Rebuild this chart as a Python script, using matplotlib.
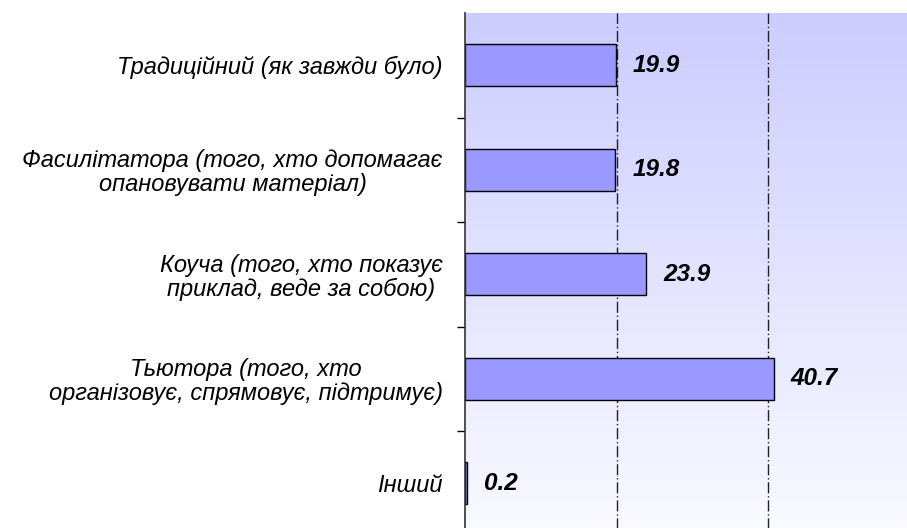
import matplotlib
matplotlib.use("Agg")
import matplotlib.pyplot as plt
import numpy as np
from matplotlib.colors import LinearSegmentedColormap

categories = [
    "Традиційний (як завжди було)",
    "Фасилітатора (того, хто допомагає\nопановувати матеріал)",
    "Коуча (того, хто показує\nприклад, веде за собою)",
    "Тьютора (того, хто\nорганізовує, спрямовує, підтримує)",
    "Інший",
]
values = [19.9, 19.8, 23.9, 40.7, 0.2]
value_labels = ["19.9", "19.8", "23.9", "40.7", "0.2"]

plt.rcParams['font.family'] = ['Liberation Sans', 'DejaVu Sans']

fig = plt.figure(figsize=(9.07, 5.28), dpi=100)
top_px, left_px = 13, 465
cat_h = 104.5
n = len(categories)
bottom_px = top_px + n * cat_h
ax = fig.add_axes([left_px / 907, (528 - bottom_px) / 528, (907 - left_px) / 907, (bottom_px - top_px) / 528])

xmax = (907 - left_px) / 151.7 * 20
ax.set_xlim(0, xmax)
ax.set_ylim(n - 0.5, -0.5)

# gradient background
cmap = LinearSegmentedColormap.from_list("bg", ["#CCCCFF", "#FAFAFF"])
grad = np.linspace(0, 1, 256).reshape(-1, 1)
ax.imshow(grad, extent=[0, xmax, n - 0.5, -0.5], aspect='auto', cmap=cmap, zorder=0)

for gx in [20, 40]:
    ax.axvline(gx, color='#222222', lw=1.0, linestyle=(0, (8, 2, 1, 2)), zorder=1)

y = np.arange(n)
ax.barh(y, values, height=0.4, color='#9999FF', edgecolor='black', linewidth=1.0, zorder=2)

for yi, v, lab in zip(y, values, value_labels):
    ax.annotate(lab, (v, yi), xytext=(17, 0), textcoords='offset pixels',
                va='center', ha='left', fontsize=17.5, fontweight='bold', fontstyle='italic', color='black')

ax.set_yticks(y)
ax.set_yticklabels(categories, fontsize=17, fontstyle='italic', multialignment='center', linespacing=1.05)
ax.tick_params(axis='y', which='major', length=0, pad=16)
ax.set_yticks(np.arange(n - 1) + 0.5, minor=True)
ax.tick_params(axis='y', which='minor', length=6, width=1, color='black', direction='out')
ax.set_xticks([])

for s in ['top', 'right', 'bottom']:
    ax.spines[s].set_visible(False)
ax.spines['left'].set_color('#333333')
ax.spines['left'].set_linewidth(1.2)

fig.savefig("out.png", dpi=100)
